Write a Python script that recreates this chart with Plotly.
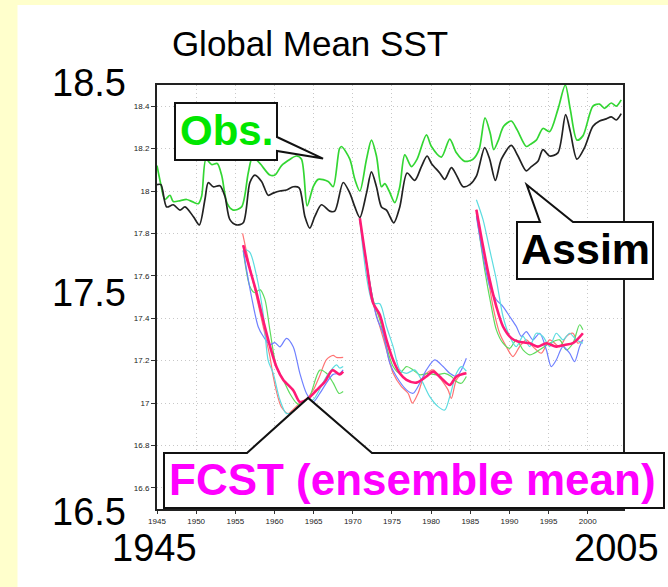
import plotly.graph_objects as go

# ---------------- data ----------------
obs_years = [1945.0, 1945.5, 1946.0, 1946.66, 1947.08, 1948.0, 1948.78, 1949.5, 1950.27, 1950.7,
             1951.25, 1951.97, 1952.69, 1953.25, 1953.97, 1954.73, 1955.8, 1956.65, 1957.2, 1958.14,
             1959.41, 1960.05, 1960.9, 1962.0, 1962.81, 1963.45, 1964.17, 1964.94, 1965.58, 1966.85,
             1967.49, 1968.3, 1968.56, 1969.62, 1970.26, 1970.9, 1971.75, 1972.38, 1973.02, 1973.66,
             1974.09, 1974.64, 1975.36, 1976.0, 1976.64, 1977.49, 1978.21, 1979.4, 1980.04, 1981.31,
             1982.38, 1983.23, 1984.29, 1985.35, 1986.12, 1986.88, 1987.56, 1987.99, 1988.54, 1989.26,
             1990.24, 1990.96, 1992.15, 1992.66, 1993.43, 1994.28, 1995.13, 1996.19, 1997.13, 1997.77,
             1998.62, 1999.38, 2000.66, 2001.51, 2002.15, 2003.0, 2003.64, 2004.27]
obs_sst = [18.12, 18.03, 17.96, 17.98, 17.95, 17.955, 17.96, 17.95, 17.94, 17.975,
           18.15, 18.125, 18.13, 18.075, 17.94, 17.91, 17.925, 18.085, 18.16, 18.13,
           18.075, 18.075, 18.12, 18.15, 18.165, 18.15, 17.93, 18.02, 18.055, 18.045,
           18.02, 18.2, 18.21, 18.15, 18.055, 18.0, 18.15, 18.24, 18.165, 18.02,
           18.035, 18.0, 17.945, 18.02, 18.17, 18.115, 18.15, 18.265, 18.21, 18.16,
           18.245, 18.18, 18.14, 18.15, 18.195, 18.345, 18.27, 18.195, 18.235, 18.305,
           18.33, 18.29, 18.21, 18.22, 18.24, 18.295, 18.28, 18.385, 18.5, 18.385,
           18.24, 18.26, 18.40, 18.41, 18.39, 18.415, 18.40, 18.43]

assim_years = [1945.0, 1945.5, 1946.23, 1947.08, 1947.93, 1948.57, 1949.63, 1950.4, 1951.12, 1951.55,
               1952.18, 1953.03, 1953.67, 1954.31, 1955.16, 1956.01, 1956.86, 1957.5, 1958.35, 1959.2,
               1959.84, 1960.69, 1961.54, 1962.39, 1963.15, 1963.88, 1964.51, 1965.15, 1966.0, 1967.06,
               1967.7, 1968.77, 1969.62, 1970.26, 1970.9, 1971.75, 1972.38, 1973.02, 1973.66, 1974.3,
               1975.23, 1976.0, 1976.93, 1977.91, 1978.76, 1979.48, 1980.04, 1981.1, 1981.74, 1982.59,
               1983.23, 1984.08, 1984.93, 1985.78, 1986.84, 1987.48, 1988.2, 1988.97, 1990.24, 1991.09,
               1992.15, 1992.79, 1993.64, 1994.28, 1995.13, 1996.19, 1997.17, 1997.77, 1998.62, 1999.59,
               2000.66, 2001.51, 2002.36, 2003.0, 2003.64, 2004.27]
assim_sst = [18.03, 18.03, 17.925, 17.935, 17.91, 17.925, 17.88, 17.84, 17.96, 18.04,
             18.02, 18.025, 17.975, 17.865, 17.84, 17.85, 18.04, 18.075, 18.045, 17.98,
             17.99, 18.0, 18.005, 18.02, 18.015, 17.88, 17.825, 17.88, 17.935, 17.905,
             17.905, 18.04, 17.99, 17.925, 17.875, 17.99, 18.09, 18.02, 17.925, 17.91,
             17.85, 17.925, 18.085, 18.05, 18.115, 18.165, 18.13, 18.085, 18.055, 18.11,
             18.075, 18.02, 18.03, 18.07, 18.205, 18.15, 18.05, 18.15, 18.215, 18.165,
             18.095, 18.115, 18.14, 18.195, 18.165, 18.18, 18.36, 18.28, 18.15, 18.205,
             18.305, 18.33, 18.34, 18.35, 18.335, 18.365]

# forecast 1 (start 1956)
f1_mean_yr = [1956.0, 1956.86, 1957.71, 1958.56, 1959.41, 1960.26, 1961.11, 1962.39, 1963.24, 1964.09,
              1965.36, 1966.43, 1967.4, 1968.34, 1968.77]
f1_mean = [17.745, 17.63, 17.52, 17.39, 17.27, 17.17, 17.11, 17.06, 17.005, 17.015,
           17.06, 17.10, 17.155, 17.135, 17.148]
f1_red_yr = [1955.93, 1956.86, 1957.71, 1958.56, 1959.41, 1959.84, 1960.5, 1960.9, 1961.75, 1962.4,
             1963.24, 1964.09, 1964.94, 1965.79, 1966.64, 1967.49, 1967.92, 1968.77]
f1_red = [17.80, 17.64, 17.50, 17.36, 17.22, 17.125, 17.02, 16.98, 16.95, 16.97,
          17.0, 17.02, 17.06, 17.13, 17.205, 17.225, 17.215, 17.215]
f1_cyan_yr = [1956.01, 1956.86, 1957.71, 1958.56, 1959.2, 1959.84, 1960.69, 1961.54, 1962.39, 1963.24,
              1964.09, 1964.94, 1966.64, 1967.91, 1968.34, 1968.77]
f1_cyan = [17.73, 17.71, 17.60, 17.42, 17.20, 17.14, 17.015, 16.95, 16.96, 16.99,
           17.01, 17.015, 17.125, 17.18, 17.165, 17.172]
f1_green_yr = [1956.01, 1956.86, 1957.5, 1958.14, 1958.77, 1959.41, 1960.26, 1961.11, 1961.96, 1962.81,
               1963.66, 1964.51, 1965.79, 1966.64, 1967.49, 1968.25, 1968.77]
f1_green = [17.72, 17.55, 17.52, 17.535, 17.49, 17.345, 17.17, 17.11, 17.045, 17.0,
            16.985, 17.03, 17.155, 17.14, 17.095, 17.045, 17.054]
f1_blue_yr = [1956.01, 1957.07, 1957.92, 1958.56, 1959.41, 1960.05, 1960.69, 1961.54, 1962.39, 1963.24,
              1964.09, 1964.94, 1965.79, 1966.64, 1967.49, 1968.34, 1968.77]
f1_blue = [17.72, 17.50, 17.36, 17.315, 17.275, 17.285, 17.265, 17.305, 17.265, 17.14,
           17.045, 17.005, 17.045, 17.095, 17.135, 17.14, 17.156]

# forecast 2 (start 1971)
f2_mean_yr = [1970.9, 1971.75, 1972.6, 1973.45, 1974.3, 1975.15, 1976.0, 1976.85, 1978.12, 1979.4,
              1980.25, 1981.31, 1982.38, 1983.23, 1984.5]
f2_mean = [17.872, 17.66, 17.471, 17.416, 17.298, 17.203, 17.14, 17.109, 17.096, 17.125,
           17.148, 17.117, 17.085, 17.125, 17.14]
f2_red_yr = [1970.9, 1972.6, 1973.45, 1974.3, 1975.15, 1976.21, 1977.06, 1977.61, 1978.34, 1979.19,
             1980.25, 1981.31, 1982.16, 1982.59, 1983.23, 1984.08, 1984.5]
f2_red = [17.865, 17.471, 17.361, 17.251, 17.14, 17.077, 17.046, 16.999, 17.046, 17.133,
          17.156, 17.109, 17.062, 17.022, 17.109, 17.14, 17.14]
f2_cyan_yr = [1970.9, 1972.6, 1973.45, 1974.3, 1975.15, 1976.0, 1976.85, 1977.91, 1978.76, 1979.83,
              1980.89, 1981.74, 1982.38, 1983.23, 1983.86, 1984.5]
f2_cyan = [17.865, 17.471, 17.468, 17.361, 17.266, 17.156, 17.14, 17.156, 17.109, 17.03,
           16.983, 16.967, 17.03, 17.14, 17.172, 17.15]
f2_blue_yr = [1970.9, 1973.02, 1973.87, 1974.72, 1975.57, 1976.85, 1977.7, 1978.55, 1979.4, 1980.46,
              1981.53, 1982.38, 1983.23, 1983.86, 1984.5]
f2_blue = [17.865, 17.408, 17.329, 17.188, 17.125, 17.062, 17.046, 17.093, 17.156, 17.203,
           17.172, 17.14, 17.125, 17.156, 17.211]
f2_green_yr = [1970.9, 1972.6, 1973.45, 1974.3, 1975.15, 1976.0, 1976.85, 1977.7, 1978.55, 1979.61,
               1980.68, 1981.74, 1982.59, 1983.23, 1983.86, 1984.5]
f2_green = [17.865, 17.487, 17.392, 17.266, 17.172, 17.14, 17.172, 17.156, 17.133, 17.14,
            17.133, 17.14, 17.125, 17.101, 17.093, 17.125]

# forecast 3 (start 1986)
f3_mean_yr = [1985.78, 1986.63, 1987.48, 1988.33, 1989.18, 1990.24, 1991.09, 1992.58, 1993.64, 1994.71,
              1995.98, 1997.04, 1998.11, 1999.38]
f3_mean = [17.912, 17.739, 17.581, 17.455, 17.361, 17.306, 17.29, 17.282, 17.266, 17.282,
           17.266, 17.274, 17.282, 17.329]
f3_red_yr = [1985.78, 1987.05, 1987.9, 1988.75, 1989.6, 1990.45, 1991.3, 1992.15, 1993.0, 1994.07,
             1995.13, 1996.41, 1997.26, 1998.11, 1998.74, 1999.38]
f3_red = [17.912, 17.644, 17.455, 17.329, 17.266, 17.219, 17.266, 17.298, 17.266, 17.235,
          17.298, 17.266, 17.314, 17.329, 17.282, 17.298]
f3_green_yr = [1985.78, 1986.84, 1987.69, 1988.33, 1989.18, 1990.03, 1990.88, 1991.73, 1992.58, 1993.86,
               1995.13, 1996.41, 1997.26, 1998.11, 1998.96, 1999.38]
f3_green = [17.896, 17.628, 17.455, 17.345, 17.282, 17.258, 17.298, 17.251, 17.227, 17.251,
            17.282, 17.298, 17.251, 17.282, 17.369, 17.345]
f3_blue_yr = [1985.78, 1987.48, 1988.33, 1989.18, 1990.03, 1990.88, 1991.52, 1992.15, 1993.0, 1993.86,
              1994.71, 1995.34, 1995.98, 1996.83, 1997.68, 1998.32, 1998.96, 1999.38]
f3_blue = [17.88, 17.55, 17.487, 17.455, 17.408, 17.361, 17.314, 17.337, 17.298, 17.329,
           17.251, 17.172, 17.203, 17.266, 17.235, 17.195, 17.266, 17.298]
f3_cyan_yr = [1985.78, 1986.63, 1987.48, 1988.33, 1989.18, 1990.03, 1990.88, 1991.73, 1992.58, 1993.43,
              1994.28, 1995.13, 1995.98, 1996.83, 1997.68, 1998.53, 1999.38]
f3_cyan = [17.959, 17.865, 17.723, 17.581, 17.408, 17.314, 17.266, 17.314, 17.266, 17.329,
           17.314, 17.266, 17.329, 17.298, 17.329, 17.298, 17.282]

# tick labels
y_tickvals = [16.6, 16.8, 17.0, 17.2, 17.4, 17.6, 17.8, 18.0, 18.2, 18.4]
y_ticktext = ["16.6", "16.8", "17", "17.2", "17.4", "17.6", "17.8", "18", "18.2", "18.4"]
x_tickvals = [1945, 1950, 1955, 1960, 1965, 1970, 1975, 1980, 1985, 1990, 1995, 2000]
big_y_labels = ["18.5", "17.5", "16.5"]
big_x_labels = ["1945", "2005"]
title_text = "Global Mean SST"
obs_label = "Obs."
assim_label = "Assim"
fcst_label = "FCST (ensemble mean)"
# pointer tips of the callouts, in data units
obs_tip = (1966.2, 18.153)
assim_tip = (1992.2, 18.03)
fcst_tip = (1964.3, 17.024)

# ---------------- layout geometry ----------------
W, H = 668, 587
ML, MR, MT, MB = 157, 45, 85, 78
XR = [1945, 2004.5]
YR = [16.5, 18.5]
PW, PH = W - ML - MR, H - MT - MB
FONT = "Liberation Sans, Arial, sans-serif"


def pxx(px):
    return (px - ML) / PW


def pxy(py):
    return (H - MB - py) / PH


def dx(x):
    return (x - XR[0]) / (XR[1] - XR[0])


def dy(y):
    return (y - YR[0]) / (YR[1] - YR[0])


fig = go.Figure()

c_red, c_green, c_blue, c_cyan, c_mean = "#FF7373", "#5EDB5E", "#6F80FF", "#5CDCE0", "#FF1A75"
members = [
    (f1_red_yr, f1_red, c_red), (f1_green_yr, f1_green, c_green), (f1_blue_yr, f1_blue, c_blue), (f1_cyan_yr, f1_cyan, c_cyan),
    (f2_red_yr, f2_red, c_red), (f2_green_yr, f2_green, c_green), (f2_blue_yr, f2_blue, c_blue), (f2_cyan_yr, f2_cyan, c_cyan),
    (f3_red_yr, f3_red, c_red), (f3_green_yr, f3_green, c_green), (f3_blue_yr, f3_blue, c_blue), (f3_cyan_yr, f3_cyan, c_cyan),
]
for xs, ys, col in members:
    fig.add_trace(go.Scatter(x=xs, y=ys, mode="lines", line=dict(color=col, width=1.2, shape="spline", smoothing=0.8),
                             showlegend=False, hoverinfo="skip"))
for xs, ys in [(f1_mean_yr, f1_mean), (f2_mean_yr, f2_mean), (f3_mean_yr, f3_mean)]:
    fig.add_trace(go.Scatter(x=xs, y=ys, mode="lines", line=dict(color=c_mean, width=2.6, shape="spline", smoothing=0.8),
                             showlegend=False, hoverinfo="skip"))

fig.add_trace(go.Scatter(x=obs_years, y=obs_sst, mode="lines", name="Obs.",
                         line=dict(color="#33D633", width=1.7, shape="spline", smoothing=0.8), showlegend=False))
fig.add_trace(go.Scatter(x=assim_years, y=assim_sst, mode="lines", name="Assim",
                         line=dict(color="#222222", width=1.7, shape="spline", smoothing=0.8), showlegend=False))

shapes = []
# white panel on the yellow page
shapes.append(dict(type="rect", xref="paper", yref="paper", layer="below",
                   x0=pxx(17.5), x1=pxx(W + 5), y0=pxy(5), y1=pxy(H + 5),
                   fillcolor="white", line=dict(width=0)))


def callout(pts):
    p = "M " + " L ".join(f"{x:.5f},{y:.5f}" for x, y in pts) + " Z"
    return dict(type="path", xref="paper", yref="paper", path=p, fillcolor="white",
                line=dict(color="#111111", width=2), layer="above")


ot = (dx(obs_tip[0]), dy(obs_tip[1]))
shapes.append(callout([(pxx(175), pxy(103)), (pxx(277), pxy(103)), (pxx(277), pxy(137)), ot,
                       (pxx(277), pxy(151)), (pxx(277), pxy(160)), (pxx(175), pxy(160))]))
at = (dx(assim_tip[0]), dy(assim_tip[1]))
shapes.append(callout([(pxx(517), pxy(222)), (pxx(540), pxy(222)), at, (pxx(573), pxy(222)),
                       (pxx(653), pxy(222)), (pxx(653), pxy(279)), (pxx(517), pxy(279))]))
ft = (dx(fcst_tip[0]), dy(fcst_tip[1]))
shapes.append(callout([(pxx(164), pxy(453)), (pxx(247), pxy(453)), ft, (pxx(372), pxy(453)),
                       (pxx(664), pxy(453)), (pxx(664), pxy(508)), (pxx(164), pxy(508))]))

annotations = []
annotations.append(dict(text=obs_label, xref="paper", yref="paper", x=pxx(226), y=pxy(130), showarrow=False,
                        xanchor="center", yanchor="middle",
                        font=dict(family=FONT, size=42, color="#00E600", weight="bold")))
annotations.append(dict(text=assim_label, xref="paper", yref="paper", x=pxx(585), y=pxy(249), showarrow=False,
                        xanchor="center", yanchor="middle",
                        font=dict(family=FONT, size=43, color="#000000", weight="bold")))
annotations.append(dict(text=fcst_label, xref="paper", yref="paper", x=pxx(412), y=pxy(479), showarrow=False,
                        xanchor="center", yanchor="middle",
                        font=dict(family=FONT, size=44, color="#FF00FF", weight="bold")))
for lab, py in zip(big_y_labels, [83, 293, 512]):
    annotations.append(dict(text=lab, xref="paper", yref="paper", x=pxx(128), y=pxy(py), showarrow=False,
                            xanchor="right", yanchor="middle", font=dict(family=FONT, size=38, color="#000000")))
for lab, px in zip(big_x_labels, [154, 616.5]):
    annotations.append(dict(text=lab, xref="paper", yref="paper", x=pxx(px), y=pxy(548), showarrow=False,
                            xanchor="center", yanchor="middle", font=dict(family=FONT, size=38, color="#000000")))

GRID = dict(showgrid=True, gridcolor="#C8C8C8", griddash="1px,3px", gridwidth=1, zeroline=False)
fig.update_layout(
    width=W, height=H, autosize=False,
    margin=dict(l=ML, r=MR, t=MT, b=MB, pad=0),
    paper_bgcolor="#FFFFCC", plot_bgcolor="white",
    title=dict(text=title_text, x=310 / W, xanchor="center", y=1 - 44 / H, yanchor="middle",
               font=dict(family=FONT, size=35, color="#000000")),
    shapes=shapes, annotations=annotations, showlegend=False,
    xaxis=dict(range=XR, tickvals=x_tickvals, ticks="outside", ticklen=3, tickwidth=1, tickcolor="#333",
               tickfont=dict(family=FONT, size=8, color="#222"), showline=True, linecolor="#222", linewidth=2,
               mirror=True, **GRID),
    yaxis=dict(range=YR, tickvals=y_tickvals, ticktext=y_ticktext, ticks="outside", ticklen=4, tickwidth=1,
               tickcolor="#333", tickfont=dict(family=FONT, size=8, color="#222"), showline=True, linecolor="#222",
               linewidth=2, mirror=True, **GRID),
)

fig.write_html("out.html", config={"displayModeBar": False},
               post_script="document.body.style.margin='0';document.body.style.overflow='hidden';")
